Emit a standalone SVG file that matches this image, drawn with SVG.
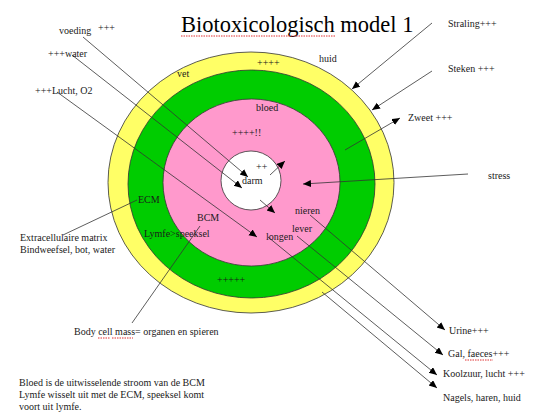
<svg xmlns="http://www.w3.org/2000/svg" width="550" height="420" viewBox="0 0 550 420">
<style>
text{font-family:"Liberation Serif","Times New Roman",serif;font-size:10px;fill:#1a1a1a}
.title{font-size:22.5px;fill:#000}
.ring{stroke:#333;stroke-width:0.8}
.c{stroke:#333;stroke-width:0.8;fill:none}
.a{marker-end:url(#ah)}
.sp{stroke:#e03030;stroke-width:1;stroke-dasharray:1.5 1;fill:none}
</style>
<defs>
<marker id="ah" markerUnits="userSpaceOnUse" markerWidth="9" markerHeight="8" refX="8" refY="3.5" orient="auto">
<path d="M0,0 L8,3.5 L0,7 z" fill="#000"/>
</marker>
</defs>
<rect width="550" height="420" fill="#fff"/>
<g id="model">
<ellipse class="ring" cx="251" cy="182.5" rx="143" ry="130.5" fill="#ffff66"/>
<ellipse class="ring" cx="251.5" cy="184" rx="123.5" ry="114" fill="#00cc00"/>
<ellipse class="ring" cx="251.5" cy="182.5" rx="88.5" ry="83.5" fill="#ff99cc"/>
<ellipse class="ring" cx="251" cy="180.5" rx="30" ry="29.5" fill="#fff"/>
</g>
<g id="title">
<text class="title" x="181" y="32">Biotoxicologisch model 1</text>
<path class="sp" d="M181,36 H335"/>
</g>
<g id="connectors">
<line class="c a" x1="83" y1="37" x2="248" y2="177"/>
<line class="c a" x1="72" y1="55" x2="242" y2="188"/>
<line class="c a" x1="57" y1="92" x2="257" y2="237"/>
<line class="c a" x1="432" y1="23" x2="352" y2="89"/>
<line class="c a" x1="432" y1="71" x2="372" y2="110"/>
<line class="c a" x1="345" y1="150" x2="400" y2="118"/>
<line class="c a" x1="468" y1="174" x2="303" y2="184"/>
<line class="c a" x1="270" y1="175" x2="285" y2="161"/>
<line class="c a" x1="260" y1="200" x2="275" y2="213"/>
<line class="c a" x1="310" y1="215" x2="445" y2="330"/>
<line class="c a" x1="297" y1="236" x2="443" y2="355"/>
<line class="c a" x1="268" y1="237" x2="437" y2="375"/>
<line class="c a" x1="322" y1="292" x2="437" y2="388"/>
<line class="c" x1="137" y1="200" x2="63" y2="235"/>
<line class="c" x1="200" y1="226" x2="132" y2="323"/>
</g>
<g id="labels">
<text x="59" y="34">voeding</text>
<text x="98" y="31">+++</text>
<text x="48" y="57">+++water</text>
<text x="35" y="94">+++Lucht, O2</text>
<text x="177" y="77">vet</text>
<text x="257" y="66">++++</text>
<text x="319" y="62">huid</text>
<text x="256" y="111">bloed</text>
<text x="232" y="136">++++!!</text>
<text x="256" y="170">++</text>
<text x="242" y="184">darm</text>
<text x="448" y="27">Straling+++</text>
<text x="448" y="72">Steken +++</text>
<text x="408" y="121">Zweet +++</text>
<text x="488" y="179">stress</text>
<text x="138" y="203">ECM</text>
<text x="197" y="221">BCM</text>
<text x="144" y="237">Lymfe&gt;speeksel</text>
<text x="295" y="214">nieren</text>
<text x="292" y="232">lever</text>
<text x="266" y="240">longen</text>
<text x="217" y="283">+++++</text>
<text x="20" y="241">Extracellulaire matrix</text>
<text x="20" y="253">Bindweefsel, bot, water</text>
<text x="74" y="335">Body cell mass= organen en spieren</text>
<path class="sp" d="M98,338 H110 M112,338 H133"/>
<text x="449" y="334">Urine+++</text>
<text x="448" y="357">Gal, faeces+++</text>
<path class="sp" d="M465,360 H493"/>
<text x="443" y="377">Koolzuur, lucht +++</text>
<text x="443" y="401">Nagels, haren, huid</text>
<text x="19" y="386">Bloed is de uitwisselende stroom van de BCM</text>
<text x="19" y="398">Lymfe wisselt uit met de ECM, speeksel komt</text>
<text x="19" y="410">voort uit lymfe.</text>
</g>
</svg>
